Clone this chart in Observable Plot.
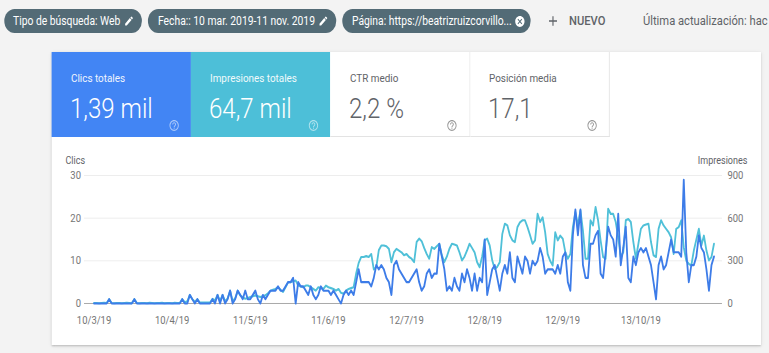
<!DOCTYPE html>
<html lang="es"><head><meta charset="utf-8">
<script src="https://cdn.jsdelivr.net/npm/d3@7"></script>
<script src="https://cdn.jsdelivr.net/npm/@observablehq/plot@0.6"></script>
<style>
:root{--s:0.86}
html,body{margin:0;padding:0;width:769px;height:353px;overflow:hidden;background:#f3f3f3;font-family:Roboto,"Noto Sans",sans-serif}
#wrap{position:absolute;left:0;top:0;width:calc(769px / var(--s));height:353px;transform:scaleX(var(--s));transform-origin:0 0}
.chip{position:absolute;top:9px;height:24px;border-radius:12px;background:#536b76;color:#fff;font-size:12px;line-height:24px;white-space:nowrap}
.chip .t{position:absolute;left:calc(9px / var(--s));top:0}
.chip svg{position:absolute;top:6px}
.panel{position:absolute;left:calc(52px / var(--s));top:52px;width:calc(709px / var(--s));height:293px;background:#fff;box-shadow:0 1px 2px rgba(0,0,0,.22),0 1px 5px rgba(0,0,0,.08)}
.card{position:absolute;top:52px;height:85px;box-sizing:border-box}
.card .lab{position:absolute;left:calc(19px / var(--s));top:21.3px;font-size:11.5px;line-height:11.5px;white-space:nowrap}
.card .val{position:absolute;left:calc(18px / var(--s));top:43px;font-size:28px;line-height:28px;font-weight:300;white-space:nowrap}
.card svg{position:absolute;left:calc(116.5px / var(--s));top:67px}
#chart{position:absolute;left:0;top:150px}
</style>
</head><body>
<div id="wrap">
  <div class="chip" style="left:calc(4px / var(--s));width:calc(138px / var(--s))"><span class="t">Tipo de búsqueda: Web</span>
    <svg viewBox="0 0 24 24" width="12" height="12" style="left:calc(120px / var(--s))"><path fill="#fff" d="M3 17.25V21h3.75L17.81 9.94l-3.75-3.75L3 17.25zM20.71 7.04a1 1 0 0 0 0-1.41l-2.34-2.34a1 1 0 0 0-1.41 0l-1.83 1.83 3.75 3.75 1.83-1.83z"/></svg></div>
  <div class="chip" style="left:calc(148px / var(--s));width:calc(188px / var(--s))"><span class="t" style="left:calc(10px / var(--s))">Fecha:: 10 mar. 2019-11 nov. 2019</span>
    <svg viewBox="0 0 24 24" width="12" height="12" style="left:calc(170px / var(--s))"><path fill="#fff" d="M3 17.25V21h3.75L17.81 9.94l-3.75-3.75L3 17.25zM20.71 7.04a1 1 0 0 0 0-1.41l-2.34-2.34a1 1 0 0 0-1.41 0l-1.83 1.83 3.75 3.75 1.83-1.83z"/></svg></div>
  <div class="chip" style="left:calc(342px / var(--s));width:calc(189px / var(--s))"><span class="t" style="left:calc(10px / var(--s))">Página: https://beatrizruizcorvillo...</span>
    <svg viewBox="0 0 24 24" width="13" height="13" style="left:calc(172.5px / var(--s));top:5.5px"><path fill="#fff" d="M12 2C6.47 2 2 6.47 2 12s4.47 10 10 10 10-4.47 10-10S17.53 2 12 2zm5 13.59L15.59 17 12 13.41 8.41 17 7 15.59 10.59 12 7 8.41 8.41 7 12 10.59 15.59 7 17 8.41 13.41 12 17 15.59z"/></svg></div>
  <svg viewBox="0 0 24 24" width="16" height="16" style="position:absolute;left:calc(546px / var(--s));top:13px"><path fill="#5f6368" d="M19 13h-6v6h-2v-6H5v-2h6V5h2v6h6v2z"/></svg>
  <div style="position:absolute;left:calc(569px / var(--s));top:9px;line-height:24px;font-size:13px;font-weight:500;color:#5f6368">NUEVO</div>
  <div style="position:absolute;left:calc(643px / var(--s));top:9px;line-height:24px;font-size:13px;color:#5f6368;white-space:nowrap">Última actualización: hac</div>

  <div class="panel"></div>
  <div class="card" style="left:calc(52px / var(--s));width:calc(139px / var(--s));background:#4285f4;color:#fff">
    <div class="lab" style="opacity:.92">Clics totales</div><div class="val">1,39 mil</div>
    <svg viewBox="0 0 24 24" width="13" height="13"><path fill="rgba(255,255,255,.55)" d="M11 18h2v-2h-2v2zm1-16C6.48 2 2 6.48 2 12s4.48 10 10 10 10-4.48 10-10S17.52 2 12 2zm0 18c-4.41 0-8-3.59-8-8s3.59-8 8-8 8 3.59 8 8-3.59 8-8 8zm0-14c-2.21 0-4 1.79-4 4h2c0-1.1.9-2 2-2s2 .9 2 2c0 2-3 1.75-3 5h2c0-2.25 3-2.5 3-5 0-2.21-1.79-4-4-4z"/></svg></div>
  <div class="card" style="left:calc(191px / var(--s));width:calc(139px / var(--s));background:#4dbfd8;color:#fff">
    <div class="lab" style="opacity:.92">Impresiones totales</div><div class="val">64,7 mil</div>
    <svg viewBox="0 0 24 24" width="13" height="13"><path fill="rgba(255,255,255,.55)" d="M11 18h2v-2h-2v2zm1-16C6.48 2 2 6.48 2 12s4.48 10 10 10 10-4.48 10-10S17.52 2 12 2zm0 18c-4.41 0-8-3.59-8-8s3.59-8 8-8 8 3.59 8 8-3.59 8-8 8zm0-14c-2.21 0-4 1.79-4 4h2c0-1.1.9-2 2-2s2 .9 2 2c0 2-3 1.75-3 5h2c0-2.25 3-2.5 3-5 0-2.21-1.79-4-4-4z"/></svg></div>
  <div class="card" style="left:calc(330px / var(--s));width:calc(140px / var(--s));background:#fff;color:#5f6368;border-right:1px solid #e3e3e3;border-bottom:1px solid #e3e3e3">
    <div class="lab" style="left:calc(20px / var(--s))">CTR medio</div><div class="val" style="left:calc(19px / var(--s))">2,2 %</div>
    <svg viewBox="0 0 24 24" width="13" height="13"><path fill="#9a9a9a" d="M11 18h2v-2h-2v2zm1-16C6.48 2 2 6.48 2 12s4.48 10 10 10 10-4.48 10-10S17.52 2 12 2zm0 18c-4.41 0-8-3.59-8-8s3.59-8 8-8 8 3.59 8 8-3.59 8-8 8zm0-14c-2.21 0-4 1.79-4 4h2c0-1.1.9-2 2-2s2 .9 2 2c0 2-3 1.75-3 5h2c0-2.25 3-2.5 3-5 0-2.21-1.79-4-4-4z"/></svg></div>
  <div class="card" style="left:calc(470px / var(--s));width:calc(140px / var(--s));background:#fff;color:#5f6368;border-right:1px solid #e3e3e3;border-bottom:1px solid #e3e3e3">
    <div class="lab">Posición media</div><div class="val">17,1</div>
    <svg viewBox="0 0 24 24" width="13" height="13"><path fill="#9a9a9a" d="M11 18h2v-2h-2v2zm1-16C6.48 2 2 6.48 2 12s4.48 10 10 10 10-4.48 10-10S17.52 2 12 2zm0 18c-4.41 0-8-3.59-8-8s3.59-8 8-8 8 3.59 8 8-3.59 8-8 8zm0-14c-2.21 0-4 1.79-4 4h2c0-1.1.9-2 2-2s2 .9 2 2c0 2-3 1.75-3 5h2c0-2.25 3-2.5 3-5 0-2.21-1.79-4-4-4z"/></svg></div>
  <div id="chart"></div>
</div>
<script>
// ---- data (daily, from 10 mar. 2019 to 11 nov. 2019) ----
const startDate = "2019-03-10";
const endDate = "2019-11-11";
const clics = [
  0,0,0,0,0,0,1,0,0,0,
  0,0,0,0,0,0,1,0,0,0,
  0,0,0,0,0,0,0,0,0,0,
  0,0,0,0,0,1,0,0,2,1,
  0,1,0,0,0,0,0,1,0,2,
  0,2,0,1,3,0,1,3,2,1,
  3,1,1,2,3,1,0,2,1,2,
  3,3,3,4,3,3,4,5,5,6,
  0,5,4,4,3,2,4,2,1,2,
  4,3,3,3,2,3,2,1,0,2,
  3,2,3,2,5,8,5,5,5,5,
  4,6,9,8,9,8,6,5,2,9,
  10,8,7,6,5,5,6,7,8,5,
  3,4,7,8,6,7,7,14,11,8,
  3,4,3,6,4,3,7,5,8,6,
  3,7,3,6,5,15,2,5,8,9,
  6,3,7,9,7,12,6,5,11,9,
  7,11,10,7,10,9,10,13,11,7,
  8,8,8,7,9,7,11,12,5,3,
  16,22,16,22,9,6,6,14,14,16,
  17,7,6,12,18,16,15,11,21,9,
  13,18,6,5,11,9,12,13,12,13,
  11,9,5,1,9,11,8,9,12,15,
  12,12,12,11,29,12,5,9,9,11,
  16,13,12,8,3,9,11
];
const impresiones = [
  3,3,2,3,4,3,30,3,2,3,
  3,2,3,4,3,2,30,3,2,3,
  3,2,4,3,2,3,3,4,2,3,
  3,2,4,3,3,30,9,15,60,30,
  12,30,6,6,6,6,6,33,21,60,
  18,60,15,36,90,18,36,90,57,45,
  33,39,45,51,57,51,45,51,57,72,
  90,96,102,114,96,81,114,150,150,156,
  162,126,120,114,126,126,114,102,90,114,
  108,102,126,114,108,102,90,102,75,69,
  90,102,108,114,210,285,327,327,333,327,
  348,240,255,375,408,408,402,384,291,360,
  384,372,360,339,348,327,315,291,432,456,
  438,390,348,315,396,384,402,420,339,291,
  330,384,420,414,408,360,303,330,372,420,
  390,360,291,255,330,444,456,408,303,243,
  258,291,489,561,549,480,444,432,537,570,
  585,585,537,480,420,444,630,573,606,501,
  348,300,267,501,444,477,456,360,315,348,
  537,642,549,654,513,315,315,585,549,678,
  585,444,327,315,666,630,630,573,465,327,
  360,585,594,573,432,315,420,525,549,555,
  561,432,339,327,525,585,549,525,501,465,
  348,525,537,585,396,300,279,267,372,450,
  525,408,477,372,303,327,420
];
const xTickDates = ["2019-03-10","2019-04-10","2019-05-11","2019-06-11","2019-07-12","2019-08-12","2019-09-12","2019-10-13"];
const xTickLabels = ["10/3/19","10/4/19","11/5/19","11/6/19","12/7/19","12/8/19","12/9/19","13/10/19"];
const clicsTicks = [0, 10, 20, 30];
const impresionesTicks = [0, 300, 600, 900];

// ---- chart ----
const S = 0.86;               // horizontal squeeze of the screenshot
const W = 769 / S;
const ratio = impresionesTicks[impresionesTicks.length - 1] / clicsTicks[clicsTicks.length - 1];
const t0 = new Date(startDate + "T00:00:00Z");
const rows = clics.map((c, i) => ({date: d3.utcDay.offset(t0, i), clics: c, impresiones: impresiones[i]}));
const xLabel = new Map(xTickDates.map((d, i) => [+new Date(d + "T00:00:00Z"), xTickLabels[i]]));

const chart = Plot.plot({
  width: W,
  height: 195,
  marginTop: 25,
  marginBottom: 42,
  marginLeft: 84 / S,
  marginRight: W - 722 / S,
  style: {background: "transparent", color: "#757575", fontFamily: "Roboto, sans-serif", fontSize: "11px", overflow: "visible"},
  x: {type: "utc", domain: [t0, new Date(endDate + "T00:00:00Z")], insetLeft: 9.6 / S, insetRight: 8.4 / S},
  y: {domain: [clicsTicks[0], clicsTicks[clicsTicks.length - 1]]},
  marks: [
    Plot.ruleY(clicsTicks.slice(1), {stroke: "#ececec", strokeWidth: 1}),
    Plot.ruleY([0], {stroke: "#a3a3a3", strokeWidth: 1}),
    Plot.lineY(rows, {x: "date", y: d => d.impresiones / ratio, stroke: "#4fc0d8", strokeWidth: 2.1, strokeLinejoin: "round"}),
    Plot.lineY(rows, {x: "date", y: "clics", stroke: "#3d7ce8", strokeWidth: 2.1, strokeLinejoin: "round"}),
    Plot.axisY({anchor: "left", ticks: clicsTicks, tickSize: 0, tickPadding: 3.5 / S, label: null,
      tickFormat: d => String(clicsTicks[clicsTicks.indexOf(d)])}),
    Plot.axisY({anchor: "right", ticks: clicsTicks, tickSize: 0, tickPadding: 5 / S, label: null,
      tickFormat: d => String(impresionesTicks[clicsTicks.indexOf(d)])}),
    Plot.axisX({ticks: xTickDates.map(d => new Date(d + "T00:00:00Z")), tickSize: 0, tickPadding: 13, label: null,
      tickFormat: d => xLabel.get(+d)}),
    Plot.text(["Clics"], {text: d => d, frameAnchor: "top-left", dx: (65 - 84) / S, dy: -18.5, textAnchor: "start", fill: "#5f6368", fontSize: 10.5}),
    Plot.text(["Impresiones"], {text: d => d, frameAnchor: "top-right", dx: (747 - 722) / S, dy: -18.5, textAnchor: "end", fill: "#5f6368", fontSize: 10.5})
  ]
});
document.getElementById("chart").appendChild(chart);
</script>
</body></html>
